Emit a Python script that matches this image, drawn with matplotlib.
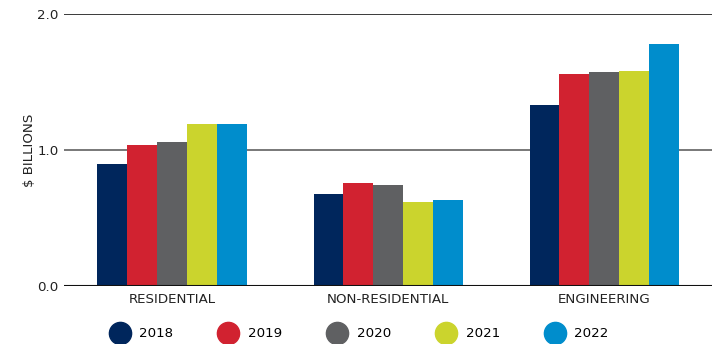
import numpy as np
import matplotlib.pyplot as plt
from matplotlib.lines import Line2D

plt.rcParams['font.family'] = ['DejaVu Sans']

# construction value by sector, $ billions
categories = ["RESIDENTIAL", "NON-RESIDENTIAL", "ENGINEERING"]
years = ["2018", "2019", "2020", "2021", "2022"]
values_2018 = [0.90, 0.68, 1.33]
values_2019 = [1.04, 0.76, 1.56]
values_2020 = [1.06, 0.74, 1.57]
values_2021 = [1.19, 0.62, 1.58]
values_2022 = [1.19, 0.63, 1.78]
colors = ["#00265C", "#D12230", "#5F6062", "#CBD42D", "#008DCC"]

series = [values_2018, values_2019, values_2020, values_2021, values_2022]

fig = plt.figure(figsize=(7.15, 3.44), dpi=100)
ax = fig.add_axes([0.0895, 0.1686, 0.9065, 0.7907])

x = np.arange(len(categories))
bw = 0.138
for i, (vals, col) in enumerate(zip(series, colors)):
    ax.bar(x + (i - 2) * bw, vals, width=bw, color=col, zorder=3)

# horizontal reference lines
ax.axhline(2.0, color="#2b2b2b", lw=1.3, zorder=1)
ax.axhline(1.0, color="#6d6d6d", lw=1.3, zorder=1)
ax.axhline(0.0, color="#111111", lw=1.5, zorder=4)

ax.set_xlim(-0.5, 2.5)
ax.set_ylim(0, 2.0)
ax.set_yticks([0, 1, 2])
ax.set_yticklabels(["0.0", "1.0", "2.0"])
ax.set_xticks(x)
ax.set_xticklabels(categories)
ax.tick_params(axis="both", length=0, labelsize=9.6, colors="#222222")
ax.tick_params(axis="x", pad=5)
ax.tick_params(axis="y", pad=4)
for s in ax.spines.values():
    s.set_visible(False)

ax.set_ylabel("$ BILLIONS", fontsize=9.6, color="#222222", labelpad=0.5)

handles = [Line2D([], [], ls="none", marker="o", markersize=16,
                  markerfacecolor=c, markeredgecolor=c) for c in colors]
fig.legend(handles, years, ncol=5, loc="center", bbox_to_anchor=(0.502, 0.03),
           frameon=False, fontsize=9.6, handletextpad=0.65, columnspacing=3.35,
           handlelength=1.6)

fig.savefig("out.png", dpi=100)
